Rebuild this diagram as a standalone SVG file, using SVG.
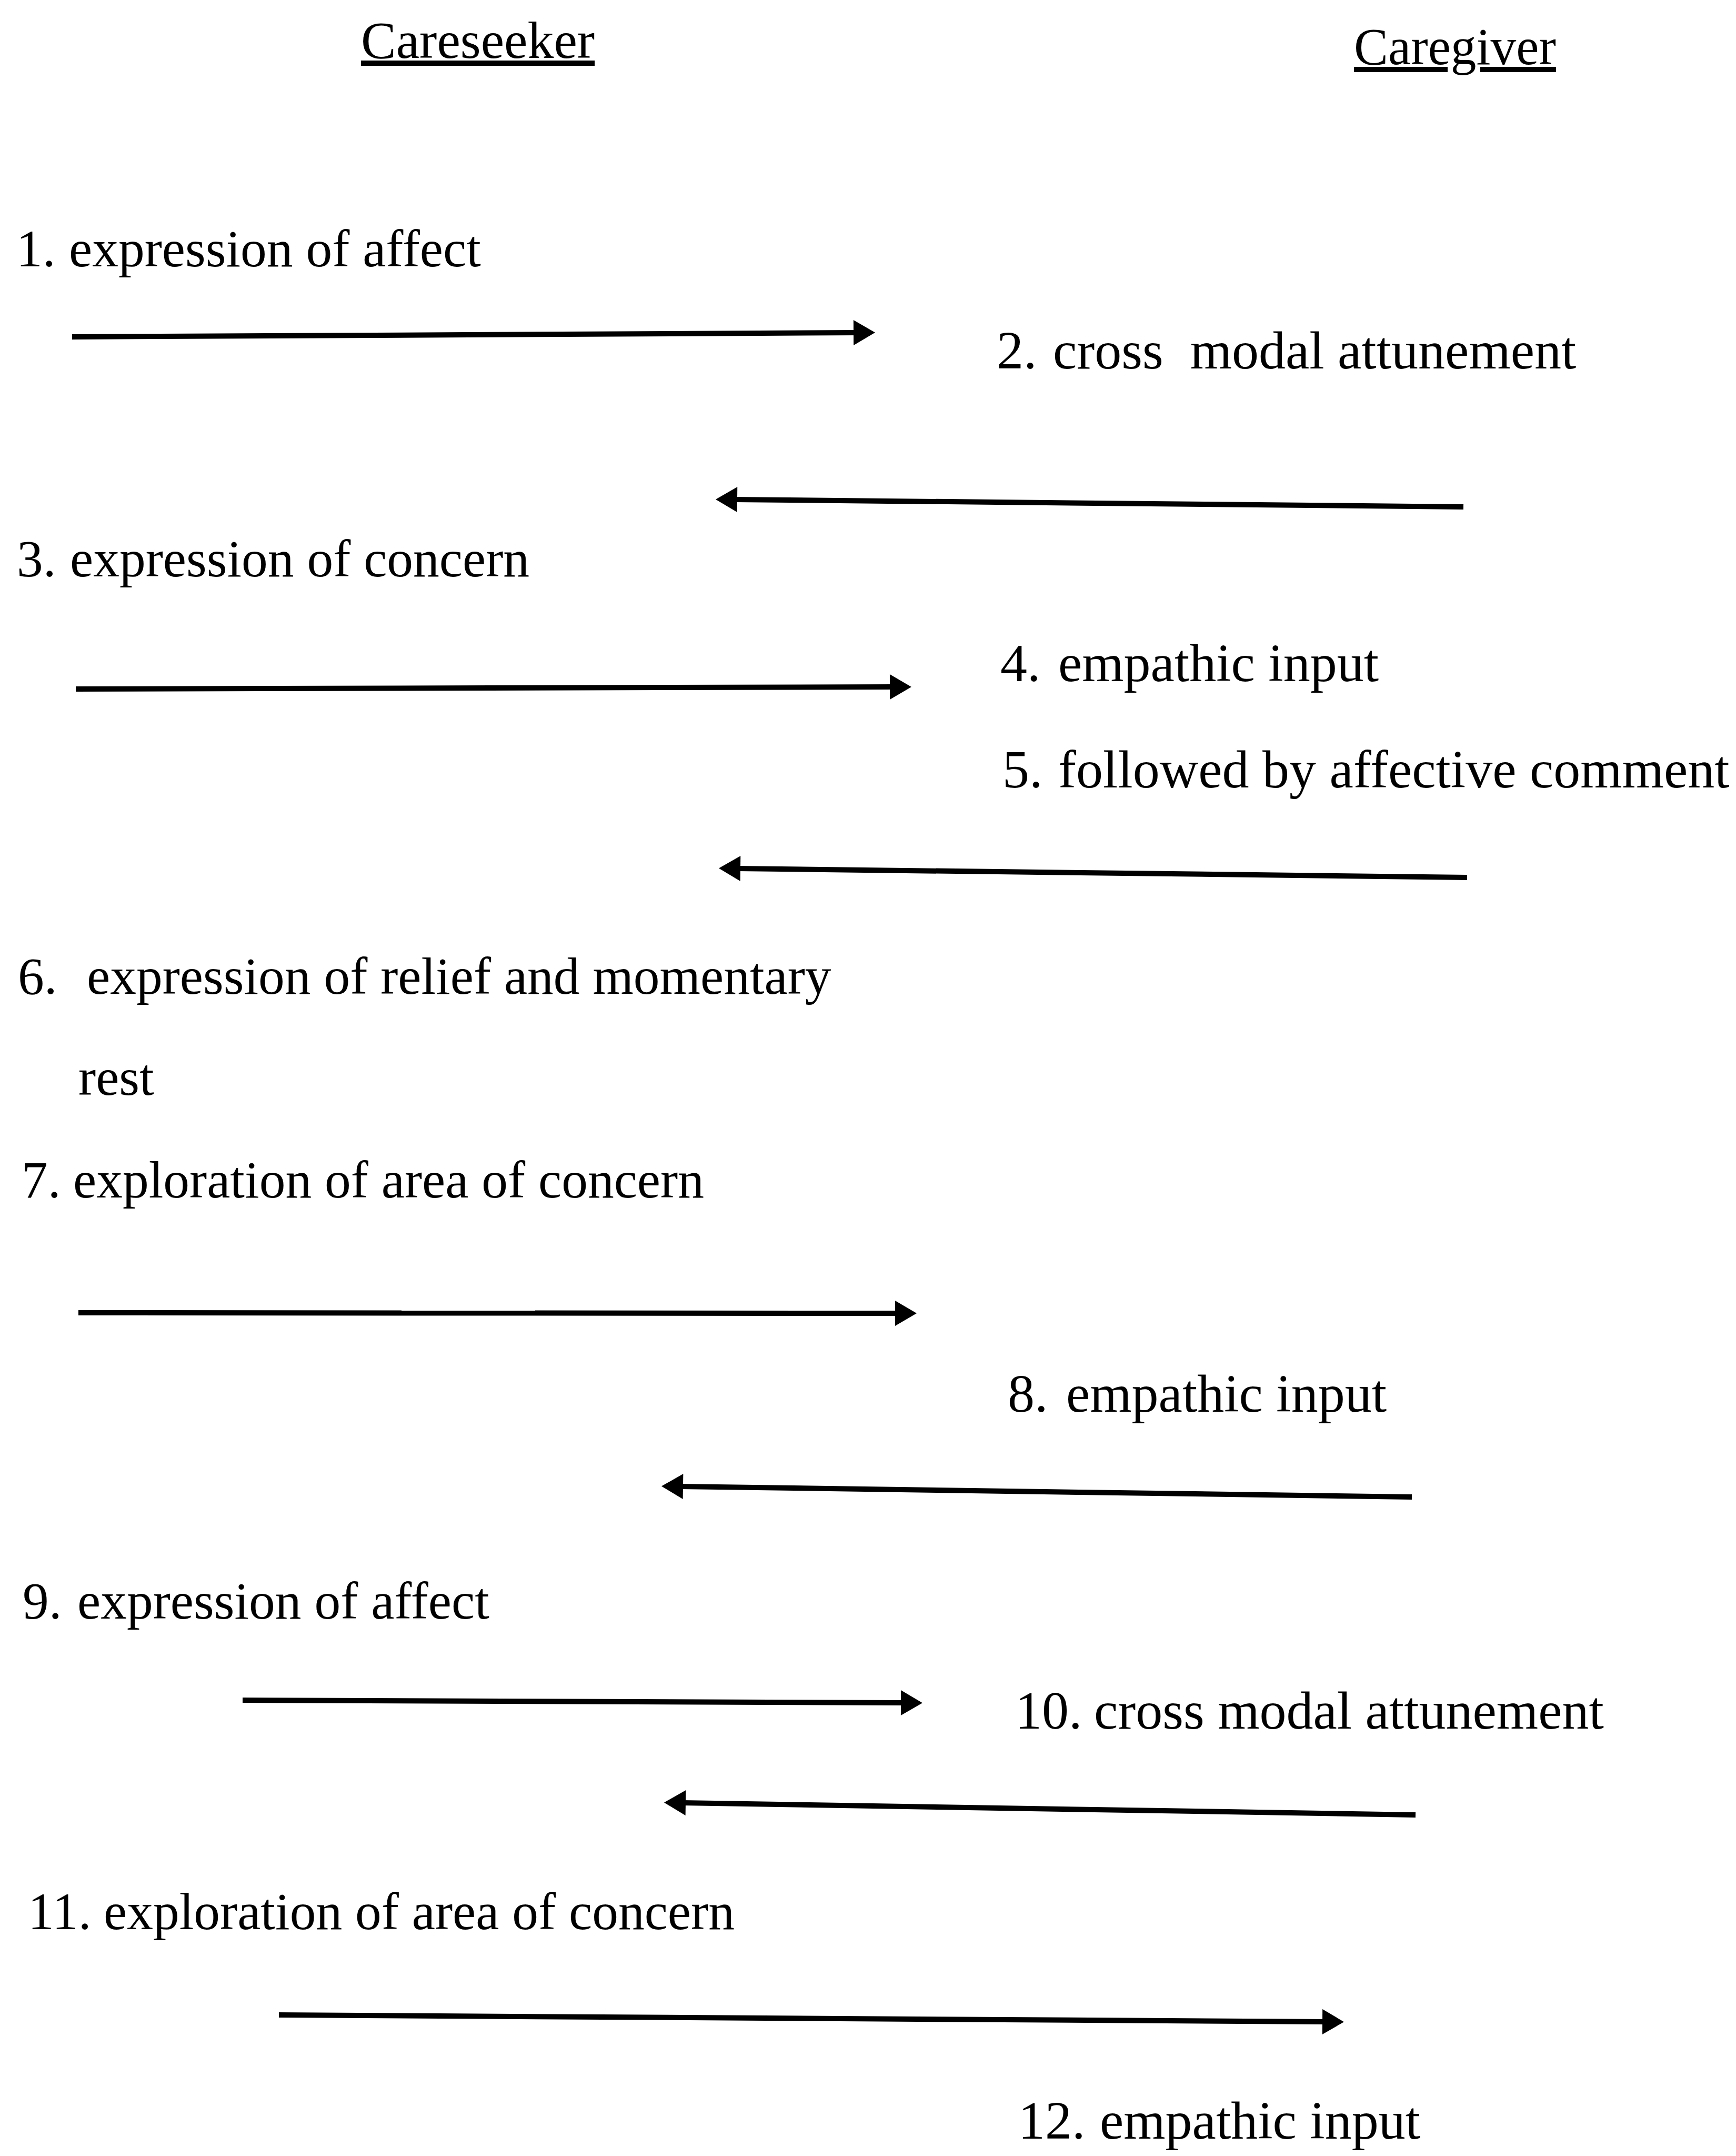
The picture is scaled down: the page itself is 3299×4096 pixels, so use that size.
<svg xmlns="http://www.w3.org/2000/svg" width="3299" height="4096" viewBox="0 0 3299 4096">
<style>
text { font-family: "Liberation Serif", "Times New Roman", serif; font-size: 101px; fill: #000; }
.l { font-size: 99.5px; }
.r { font-size: 102px; }
.hdr { text-decoration: underline; font-size: 100px; }
.pre { white-space: pre; }
.conn line { stroke: #000; stroke-width: 10; fill: none; marker-end: url(#ah); }
</style>
<defs>
<marker id="ah" markerUnits="userSpaceOnUse" markerWidth="50" markerHeight="56" viewBox="0 -28 44 56" refX="6" refY="0" orient="auto">
<path d="M0,-24 L41,0 L0,24 Z" fill="#000"/>
</marker>
</defs>
<rect x="0" y="0" width="3299" height="4096" fill="#fff"/>

<g id="hdr-careseeker"><text class="hdr" x="686" y="110">Careseeker</text></g>
<g id="hdr-caregiver"><text class="hdr" x="2573" y="122" textLength="384" lengthAdjust="spacingAndGlyphs">Caregiver</text></g>

<g id="n1"><text class="l" y="506"><tspan x="31">1.</tspan> <tspan x="131">expression of affect</tspan></text></g>
<g id="n2"><text class="r pre" y="700"><tspan x="1894">2.</tspan><tspan x="2001">cross  modal attunement</tspan></text></g>
<g id="n3"><text class="l" y="1095"><tspan x="32">3.</tspan> <tspan x="133">expression of concern</tspan></text></g>
<g id="n4"><text class="r" y="1294"><tspan x="1901">4.</tspan> <tspan x="2011">empathic input</tspan></text></g>
<g id="n5"><text class="r" y="1496"><tspan x="1905">5.</tspan> <tspan x="2011">followed by affective comment</tspan></text></g>
<g id="n6">
<text class="l" y="1888"><tspan x="34">6.</tspan> <tspan x="165">expression of relief and momentary</tspan></text>
<text class="l" x="149" y="2080">rest</text>
</g>
<g id="n7"><text class="l" y="2275"><tspan x="41">7.</tspan> <tspan x="139">exploration of area of concern</tspan></text></g>
<g id="n8"><text class="r" y="2682"><tspan x="1915">8.</tspan> <tspan x="2026">empathic input</tspan></text></g>
<g id="n9"><text class="l" y="3075"><tspan x="43">9.</tspan> <tspan x="147">expression of affect</tspan></text></g>
<g id="n10"><text class="r" y="3284"><tspan x="1929">10.</tspan> <tspan x="2079">cross modal attunement</tspan></text></g>
<g id="n11"><text class="l" y="3665"><tspan x="53">11.</tspan> <tspan x="197">exploration of area of concern</tspan></text></g>
<g id="n12"><text class="r" y="4063"><tspan x="1935">12.</tspan> <tspan x="2090">empathic input</tspan></text></g>

<g id="connectors" class="conn">
<line x1="137" y1="640" x2="1628" y2="632"/>
<line x1="2781" y1="963" x2="1395" y2="949"/>
<line x1="144" y1="1309" x2="1697" y2="1305"/>
<line x1="2788" y1="1667" x2="1401" y2="1650"/>
<line x1="149" y1="2494" x2="1707" y2="2495"/>
<line x1="2683" y1="2844" x2="1292" y2="2824"/>
<line x1="461" y1="3230" x2="1718" y2="3235"/>
<line x1="2690" y1="3448" x2="1297" y2="3425"/>
<line x1="530" y1="3828" x2="2519" y2="3841"/>
</g>
</svg>
